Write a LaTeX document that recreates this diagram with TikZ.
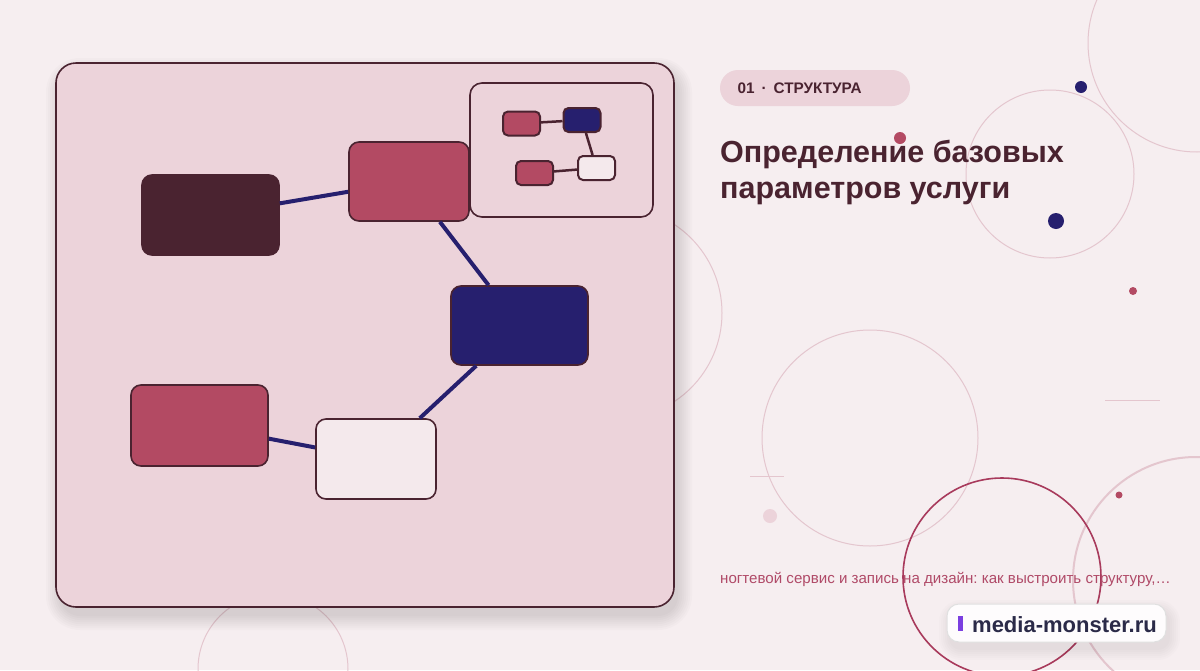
\documentclass[tikz,border=0pt]{standalone}
\usepackage{fontspec}
\setmainfont{Liberation Sans}
\frenchspacing
\usetikzlibrary{positioning}

\definecolor{fondo}{HTML}{F6EEF0}
\definecolor{panel}{HTML}{ECD3DA}
\definecolor{oscuro}{HTML}{4A2330}
\definecolor{rosa}{HTML}{B34A63}
\definecolor{azul}{HTML}{261F6E}
\definecolor{claro}{HTML}{F4E9EC}
\definecolor{rosaclaro}{HTML}{E4C6CE}
\definecolor{vino}{HTML}{A83A5C}
\definecolor{rosatexto}{HTML}{B04A68}
\definecolor{violeta}{HTML}{7B3FE0}
\definecolor{tinta}{HTML}{2B2A48}

\begin{document}
\begin{tikzpicture}[x=1pt,y=-1pt,
    caja/.style={draw=oscuro,line width=1.6pt,rounded corners=10pt,inner sep=0pt,
      minimum width=137pt,minimum height=80pt},
    mini/.style={draw=oscuro,line width=2pt,rounded corners=5pt,inner sep=0pt,
      minimum width=37pt,minimum height=24pt},
    enlace/.style={azul,line width=4pt},
    minienlace/.style={oscuro,line width=2.5pt},
    deco/.style={rosaclaro,line width=1pt}]
    \useasboundingbox (0,0) rectangle (1200,670);
    \clip (0,0) rectangle (1200,670);
    \fill[fondo] (0,0) rectangle (1200,670);

    % Circulos
    \begin{scope}[deco]
        \draw (1197,43) circle (109);
        \draw (1050,174) circle (84);
        \draw (616,313) circle (106);
        \draw (870,438) circle (108);
        \draw (273,669) circle (75);
        \draw (750,476) -- (784,476);
        \draw (1105,400) -- (1160,400);
    \end{scope}
    \draw[rosaclaro,line width=2pt] (1196,580) circle (123);
    \draw[vino,line width=1.6pt] (1002,577) circle (99);
    \fill[panel] (770,516) circle (7);

    % Sombra
    \foreach \s in {0,2,...,14} {
            \fill[black,opacity=0.014,rounded corners=20+\s]
                (60-\s,72-\s) rectangle (678+\s,616+\s);
        }

    % Panel
    \node[draw=oscuro,fill=panel,line width=1.6pt,rounded corners=20pt,inner sep=0pt,
        minimum width=618pt,minimum height=544pt] (panel) at (365,335) {};

    % Nodos
    \node[caja,fill=oscuro] (definir) at (210.5,215) {};
    \node[caja,fill=rosa,minimum width=120pt,minimum height=79pt] (base) at (409,181.5) {};
    \node[caja,fill=azul,minimum height=79pt] (nucleo) at (519.5,325.5) {};
    \node[caja,fill=claro,minimum width=120pt] (servicio) at (376,459) {};
    \node[caja,fill=rosa,minimum height=81pt] (registro) at (199.5,425.5) {};

    \begin{scope}[enlace]
        \draw (definir) -- (base);
        \draw (base) -- (nucleo);
        \draw (nucleo) -- (servicio);
        \draw (servicio) -- (registro);
    \end{scope}

    % Mapa
    \node[draw=oscuro,fill=panel,line width=1.6pt,rounded corners=12pt,inner sep=0pt,
        minimum width=183pt,minimum height=134pt] (mapa) at (561.5,150) {};
    \node[mini,fill=rosa] (mrosa) at (521.5,123.5) {};
    \node[mini,fill=azul] (mazul) at (582,120) {};
    \node[mini,fill=rosa] (mrosab) at (534.5,173) {};
    \node[mini,fill=claro] (mclaro) at (596.5,168) {};
    \begin{scope}[minienlace]
        \draw (mrosa) -- (mazul);
        \draw (mazul) -- (mclaro);
        \draw (mrosab) -- (mclaro);
    \end{scope}

    % Textos
    \node[fill=panel,rounded corners=18pt,inner sep=0pt,
        minimum width=190pt,minimum height=36pt] (etiqueta) at (815,88) {};
    \node[anchor=west,text=oscuro,font=\bfseries\fontsize{15.3}{18}\selectfont]
        (seccion) at (734,88) {01\hspace{7pt}·\hspace{7pt}СТРУКТУРА};
    \begin{scope}[text=oscuro,font=\bfseries\fontsize{30.5}{36}\selectfont,inner sep=0pt]
        \node[anchor=base west] (titulo) at (720,162) {Определение базовых};
        \node[anchor=base west] (titulob) at (720,198) {параметров услуги};
    \end{scope}
    \node[anchor=base west,inner sep=0pt,text=rosatexto,font=\fontsize{15.1}{18}\selectfont]
        (resumen) at (720,583) {ногтевой сервис и запись на дизайн: как выстроить структуру,…};

    % Puntos
    \fill[rosa] (900,138) circle (6);
    \fill[azul] (1081,87) circle (6);
    \fill[azul] (1056,221) circle (8);
    \fill[rosa] (1133,291) circle (4);
    \fill[rosa] (1119,495) circle (3.5);

    % Marca
    \foreach \s in {0,2,...,10} {
            \fill[black,opacity=0.012,rounded corners=12+\s]
                (949-\s,610-\s) rectangle (1170+\s,650+\s);
        }
    \node[fill=white!85!fondo,draw=black!12,line width=1pt,rounded corners=12pt,inner sep=0pt,
        minimum width=219pt,minimum height=38pt] (marca) at (1056.5,623) {};
    \fill[violeta] (958,616) rectangle (963,631);
    \node[anchor=base west,inner sep=0pt,text=tinta,font=\bfseries\fontsize{22}{25}\selectfont]
        (sitio) at (972,632) {media-monster.ru};
\end{tikzpicture}
\end{document}
